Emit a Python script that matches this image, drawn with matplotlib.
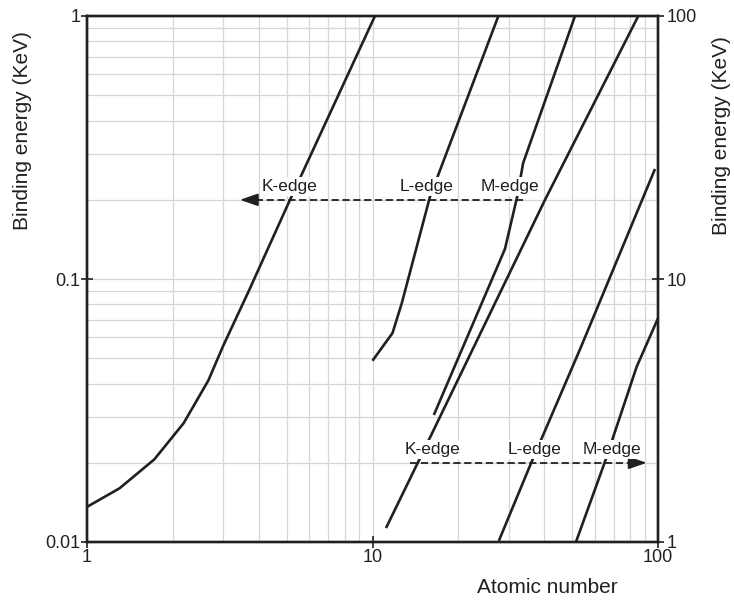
import matplotlib.pyplot as plt
from matplotlib.ticker import FixedLocator, LogLocator, NullFormatter

plt.rcParams['font.family'] = ['Liberation Sans', 'DejaVu Sans']

ink = '#231f20'

# edges read on the left axis (0.01 - 1 keV)
k_low_z = [1, 1.3, 1.72, 2.18, 2.66, 2.99, 3.70, 5.14, 10.2]
k_low_e = [0.0136, 0.016, 0.0206, 0.0283, 0.0411, 0.0553, 0.0908, 0.2, 1.0]
l_low_z = [10.0, 11.75, 12.66, 15.9, 27.6]
l_low_e = [0.0489, 0.0623, 0.0808, 0.2056, 1.0]
m_low_z = [16.4, 29.1, 32.1, 33.7, 51.2]
m_low_e = [0.0304, 0.130, 0.205, 0.276, 1.0]

# edges read on the right axis (1 - 100 keV)
k_high_z = [11.15, 14.47, 40.2, 85.3]
k_high_e = [1.13, 2.02, 20.0, 100]
l_high_z = [27.7, 36.1, 53.3, 97.6]
l_high_e = [1.01, 2.02, 5.4, 26.2]
m_high_z = [51.6, 65.2, 84.2, 100]
m_high_e = [1.0, 2.02, 4.64, 7.09]

x_ticks = [1, 10, 100]
x_ticklabels = ['1', '10', '100']
left_ticks = [0.01, 0.1, 1]
left_ticklabels = ['0.01', '0.1', '1']
right_ticks = [1, 10, 100]
right_ticklabels = ['1', '10', '100']

edge_names = ['K-edge', 'L-edge', 'M-edge']

fig = plt.figure(figsize=(7.34, 6.03), dpi=100)
ax = fig.add_axes([87 / 734, 1 - 542 / 603, 571 / 734, 526 / 603])
ax.set_xscale('log')
ax.set_yscale('log')
ax.set_xlim(1, 100)
ax.set_ylim(0.01, 1)

ax2 = ax.twinx()
ax2.set_yscale('log')
ax2.set_ylim(1, 100)

line_kw = dict(color=ink, lw=1.9, solid_capstyle='butt', zorder=3)
ax.plot(k_low_z, k_low_e, **line_kw)
ax.plot(l_low_z, l_low_e, **line_kw)
ax.plot(m_low_z, m_low_e, **line_kw)
ax2.plot(k_high_z, k_high_e, **line_kw)
ax2.plot(l_high_z, l_high_e, **line_kw)
ax2.plot(m_high_z, m_high_e, **line_kw)

# grid
ax.xaxis.set_major_locator(FixedLocator(x_ticks))
ax.xaxis.set_minor_locator(LogLocator(base=10, subs=range(2, 10)))
ax.yaxis.set_major_locator(FixedLocator(left_ticks))
ax.yaxis.set_minor_locator(LogLocator(base=10, subs=range(2, 10)))
ax.xaxis.set_minor_formatter(NullFormatter())
ax.yaxis.set_minor_formatter(NullFormatter())
ax.grid(True, which='both', color='#d6d6d6', lw=0.9, zorder=0)
ax.set_axisbelow(True)

ax.set_xticklabels(x_ticklabels)
ax.set_yticklabels(left_ticklabels)
ax2.yaxis.set_major_locator(FixedLocator(right_ticks))
ax2.yaxis.set_minor_locator(FixedLocator([]))
ax2.set_yticklabels(right_ticklabels)

ax.tick_params(which='minor', length=0)
ax.tick_params(axis='y', which='major', direction='inout', length=8, width=1.2,
               pad=0.5, labelsize=13, colors=ink)
ax.tick_params(axis='x', which='major', direction='inout', length=8, width=1.2,
               pad=1, labelsize=13, colors=ink)
ax2.tick_params(axis='y', which='major', direction='inout', length=8, width=1.2,
                pad=2, labelsize=13, colors=ink)

for a in (ax, ax2):
    for s in a.spines.values():
        s.set_color(ink)
        s.set_linewidth(1.7)

ax.set_xlabel('Atomic number', fontsize=15, color=ink)
ax.xaxis.set_label_coords(0.806, -0.068)
ax.set_ylabel('Binding energy (KeV)', fontsize=15, color=ink)
ax.yaxis.set_label_coords(-0.097, 0.783)
ax2.set_ylabel('Binding energy (KeV)', fontsize=15, color=ink)
ax2.yaxis.set_label_coords(1.094, 0.772)

# dashed arrows
dash_kw = dict(color=ink, lw=1.3, dashes=(4, 2), zorder=4)
head = dict(arrowstyle='-|>,head_length=1.1,head_width=0.38', color=ink, lw=1.3,
            shrinkA=0, shrinkB=0)
ax2.plot([33.7, 3.9], [0.2, 0.2], transform=ax.transData, **dash_kw)
ax2.annotate('', xy=(3.43, 0.2), xytext=(3.95, 0.2), xycoords=ax.transData,
             textcoords=ax.transData, arrowprops=head, zorder=4)
ax2.plot([13.5, 80], [2, 2], **dash_kw)
ax2.annotate('', xy=(91.3, 2), xytext=(79, 2), arrowprops=head, zorder=4)

label_kw = dict(fontsize=12.5, color=ink, ha='center', va='center', zorder=5,
                bbox=dict(facecolor='white', edgecolor='none', pad=1.5))
for name, zx in zip(edge_names, [5.14, 15.5, 30.4]):
    ax2.text(zx, 0.2244, name, transform=ax.transData, **label_kw)
for name, zx in zip(edge_names, [16.2, 37.1, 68.8]):
    ax2.text(zx, 2.24, name, **label_kw)

fig.savefig('out.png', dpi=100)
